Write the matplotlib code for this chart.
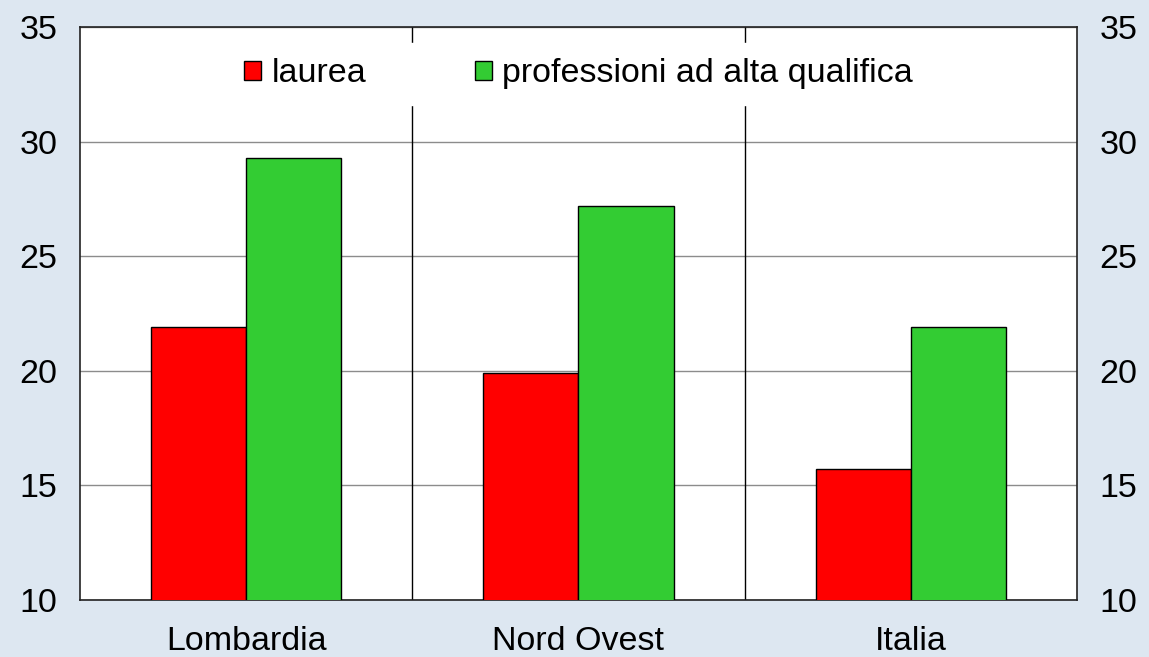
import matplotlib
matplotlib.use('Agg')
import matplotlib.pyplot as plt
import numpy as np

# dati
categories = ['Lombardia', 'Nord Ovest', 'Italia']
laurea = [21.9, 19.9, 15.7]
professioni = [29.3, 27.2, 21.9]
series_labels = ['laurea', 'professioni ad alta qualifica']
yticks = [10, 15, 20, 25, 30, 35]

plt.rcParams['font.family'] = ['Liberation Sans', 'DejaVu Sans']

bg = '#dde7f1'
fig = plt.figure(figsize=(11.49, 6.57), dpi=100, facecolor=bg)
ax = fig.add_axes([0.0696, 0.0868, 0.8677, 0.8721])
ax.set_facecolor('white')

x = np.arange(len(categories))
w = 0.286
ax.bar(x - w / 2, laurea, w, color='#ff0000', edgecolor='black',
       linewidth=1, label=series_labels[0], zorder=3)
ax.bar(x + w / 2, professioni, w, color='#33cc33', edgecolor='black',
       linewidth=1, label=series_labels[1], zorder=3)

# separatori tra le categorie
for xs in [0.5, 1.5]:
    ax.axvline(xs, color='black', linewidth=1, zorder=2)

ax.set_xlim(-0.5, 2.5)
ax.set_ylim(10, 35)
ax.set_yticks(yticks)
ax.yaxis.grid(True, color='#8c8c8c', linewidth=1)
ax.set_axisbelow(True)
ax.tick_params(axis='y', length=0, labelsize=24.5, pad=16,
               labelleft=True, labelright=True, left=False, right=False)
ax.set_xticks(x)
ax.set_xticklabels(categories)
ax.tick_params(axis='x', length=0, labelsize=24.5, pad=19)
for s in ax.spines.values():
    s.set_linewidth(1.2)
    s.set_color('#222222')

leg = ax.legend(loc='center', bbox_to_anchor=(0.5, 0.918), ncol=2,
                fontsize=24.5, frameon=True, facecolor='white', edgecolor='white',
                framealpha=1, fancybox=False, handlelength=0.5,
                handleheight=0.5, handletextpad=0.3, columnspacing=3.2,
                borderpad=0.45, borderaxespad=0)
leg.set_zorder(5)

fig.savefig('out.png', dpi=100, facecolor=bg)
